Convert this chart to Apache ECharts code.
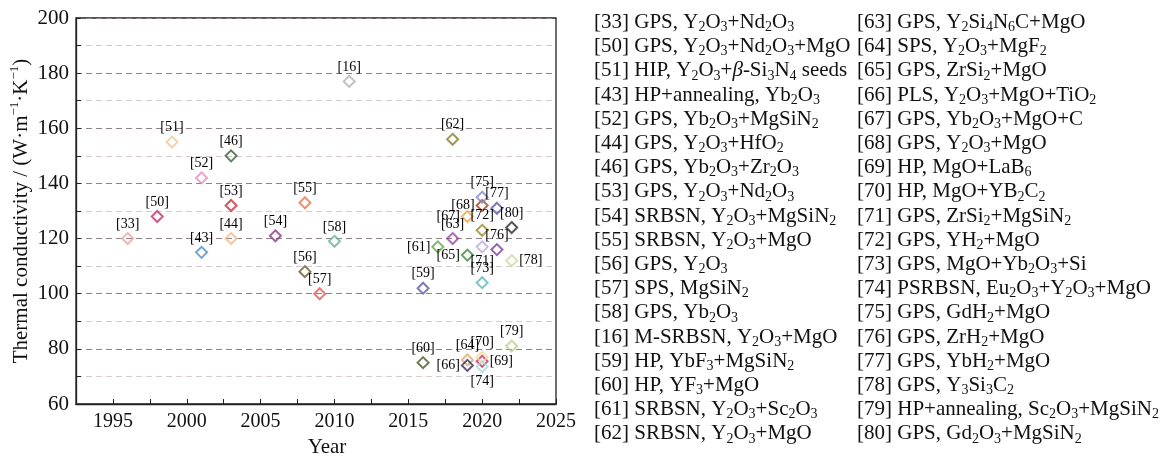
<!DOCTYPE html>
<html><head><meta charset="utf-8">
<script src="https://cdn.jsdelivr.net/npm/echarts@6/dist/echarts.min.js"></script>
<style>html,body{margin:0;padding:0;background:#fff}#c{width:1169px;height:457px}</style>
</head><body><div id="c"></div>
<script>
// ---- data (legend order) ----
const refs = ['[33]','[50]','[51]','[43]','[52]','[44]','[46]','[53]','[54]','[55]','[56]','[57]','[58]','[16]','[59]','[60]','[61]','[62]',
              '[63]','[64]','[65]','[66]','[67]','[68]','[69]','[70]','[71]','[72]','[73]','[74]','[75]','[76]','[77]','[78]','[79]','[80]'];
const years = [1996,1998,1999,2001,2001,2003,2003,2003,2006,2008,2008,2009,2010,2011,2016,2016,2017,2018,
               2018,2019,2019,2019,2019,2020,2020,2020,2020,2020,2020,2020,2020,2021,2021,2022,2022,2022];
const values = [120,128,155,115,142,120,150,132,121,133,108,100,119,177,102,75,117,156,
                120,76,114,74,128,132,75.5,77,117,123,104,73.5,135,116,131,112,81,124];
const methods = ['GPS, Y_2O_3+Nd_2O_3','GPS, Y_2O_3+Nd_2O_3+MgO','HIP, Y_2O_3+*β*-Si_3N_4 seeds','HP+annealing, Yb_2O_3',
  'GPS, Yb_2O_3+MgSiN_2','GPS, Y_2O_3+HfO_2','GPS, Yb_2O_3+Zr_2O_3','GPS, Y_2O_3+Nd_2O_3','SRBSN, Y_2O_3+MgSiN_2',
  'SRBSN, Y_2O_3+MgO','GPS, Y_2O_3','SPS, MgSiN_2','GPS, Yb_2O_3','M-SRBSN, Y_2O_3+MgO','HP, YbF_3+MgSiN_2',
  'HP, YF_3+MgO','SRBSN, Y_2O_3+Sc_2O_3','SRBSN, Y_2O_3+MgO',
  'GPS, Y_2Si_4N_6C+MgO','SPS, Y_2O_3+MgF_2','GPS, ZrSi_2+MgO','PLS, Y_2O_3+MgO+TiO_2','GPS, Yb_2O_3+MgO+C',
  'GPS, Y_2O_3+MgO','HP, MgO+LaB_6','HP, MgO+YB_2C_2','GPS, ZrSi_2+MgSiN_2','GPS, YH_2+MgO','GPS, MgO+Yb_2O_3+Si',
  'PSRBSN, Eu_2O_3+Y_2O_3+MgO','GPS, GdH_2+MgO','GPS, ZrH_2+MgO','GPS, YbH_2+MgO','GPS, Y_3Si_3C_2',
  'HP+annealing, Sc_2O_3+MgSiN_2','GPS, Gd_2O_3+MgSiN_2'];
const yearTicks = [1995,2000,2005,2010,2015,2020,2025];
const valueTicks = [60,80,100,120,140,160,180,200];

// ---- styles ----
const colors = ['#f0a0a8','#c8306a','#efc89a','#4f8fc0','#e48cc0','#f4b98a','#3a5f3a','#d42a3a','#8b3a8b',
  '#e07a50','#6b5a2e','#e05a5a','#68b09a','#b8b0b0','#5a5aa8','#4a5a28','#62a84a','#8c7c28',
  '#9a4aa0','#e0a868','#3c8a3c','#3a2a5c','#e8a850','#9c4e22','#d0306a','#f0d890','#b4acdc','#9c8a30',
  '#60b4bc','#a8d8dc','#8888cc','#7a3c9c','#5a5aaa','#c8dca0','#b4d488','#2a2a2a'];
const labelSide = {'[61]':['left',[0,0]],'[65]':['left',[0,0]],'[67]':['left',[0,0]],'[68]':['left',[0,-5]],
  '[66]':['left',[0,5]],'[69]':['right',[0,0]],'[78]':['right',[2,-5]],'[71]':['bottom',[0,0]],'[74]':['bottom',[0,0]],
  '[77]':['top',[3,0]],'[64]':['top',[-7,0]],'[75]':['top',[-4,0]],'[63]':['top',[5,0]]};

const FONT = '"Liberation Serif","Times New Roman",serif';

function toRich(s) {
  let out = '', buf = '', italic = false;
  const flush = () => { if (buf) { out += '{' + (italic ? 'i' : 'n') + '|' + buf + '}'; buf = ''; } };
  for (let i = 0; i < s.length; i++) {
    const ch = s[i];
    if (ch === '_') { flush(); out += '{s|' + s[i + 1] + '}'; i++; }
    else if (ch === '*') { flush(); italic = !italic; }
    else buf += ch;
  }
  flush();
  return out;
}

const legRich = {
  n: {fontFamily: FONT, fontSize: 21, lineHeight: 24, verticalAlign: 'middle', fill: '#111'},
  i: {fontFamily: FONT, fontSize: 21, fontStyle: 'italic', lineHeight: 24, verticalAlign: 'middle', fill: '#111'},
  s: {fontFamily: FONT, fontSize: 14, lineHeight: 12, verticalAlign: 'bottom', fill: '#111'}
};

const graphics = refs.map((r, k) => {
  const col = k < 18 ? 0 : 1;
  const row = k % 18;
  return {
    type: 'text',
    left: col === 0 ? 594 : 857,
    top: 12 + row * 24.2,
    style: {text: '{n|' + r + ' }' + toRich(methods[k]), rich: legRich, fill: '#111', font: '21px ' + FONT}
  };
});

const data = refs.map((r, k) => {
  const ls = labelSide[r] || ['top', [0, 0]];
  return {
    name: r,
    value: [years[k], values[k]],
    itemStyle: {color: 'rgba(255,255,255,0)', borderColor: colors[k], borderWidth: 2},
    label: {position: ls[0], offset: ls[1]}
  };
});

const chart = echarts.init(document.getElementById('c'), null, {renderer: 'canvas'});
chart.setOption({
  backgroundColor: '#fff',
  animation: false,
  grid: {left: 76, right: 613, top: 18, bottom: 53, outerBoundsMode: 'none', containLabel: false,
         show: true, borderColor: '#222', borderWidth: 1.3, backgroundColor: 'transparent'},
  xAxis: {
    type: 'value', min: 1992.5, max: 2025, interval: 2.5,
    name: 'Year', nameLocation: 'middle', nameGap: 30,
    nameTextStyle: {fontFamily: FONT, fontSize: 21, color: '#111', padding: [0, 0, 0, 22]},
    axisLine: {show: true, onZero: false, lineStyle: {color: '#222', width: 1.3}},
    axisTick: {show: true, inside: true, length: 5, lineStyle: {color: '#222'}},
    axisLabel: {fontFamily: FONT, fontSize: 20, color: '#111', margin: 8,
      formatter: v => yearTicks.includes(Math.round(v * 10) / 10) ? String(v) : ''},
    splitLine: {show: false}
  },
  yAxis: {
    type: 'value', min: 60, max: 200, interval: 10,
    name: '{n|Thermal conductivity / (W·m}{p|−1}{n|·K}{p|−1}{n|)}',
    nameLocation: 'middle', nameRotate: 90, nameGap: 42,
    nameTextStyle: {fontFamily: FONT, fontSize: 21, color: '#111',
      rich: {n: {fontFamily: FONT, fontSize: 21, lineHeight: 26, verticalAlign: 'middle', color: '#111'},
             p: {fontFamily: FONT, fontSize: 13, lineHeight: 16, verticalAlign: 'top', color: '#111'}}},
    axisLine: {show: true, lineStyle: {color: '#222', width: 1.3}},
    axisTick: {show: true, inside: true, length: 5, lineStyle: {color: '#222'}},
    axisLabel: {fontFamily: FONT, fontSize: 21, color: '#111', margin: 7,
      formatter: v => valueTicks.includes(v) ? String(v) : ''},
    splitLine: {show: true, lineStyle: {type: [6, 4], width: 1.2, color: ['#8f8283', '#d6cccd']}}
  },
  graphic: graphics,
  series: [{
    type: 'scatter',
    symbol: 'diamond',
    symbolSize: 11,
    data: data,
    label: {show: true, formatter: p => p.name, fontFamily: FONT, fontSize: 14, color: '#000', opacity: 1, distance: 1},
    labelLayout: {hideOverlap: false},
    emphasis: {disabled: true}
  }]
});
</script>
</body></html>
